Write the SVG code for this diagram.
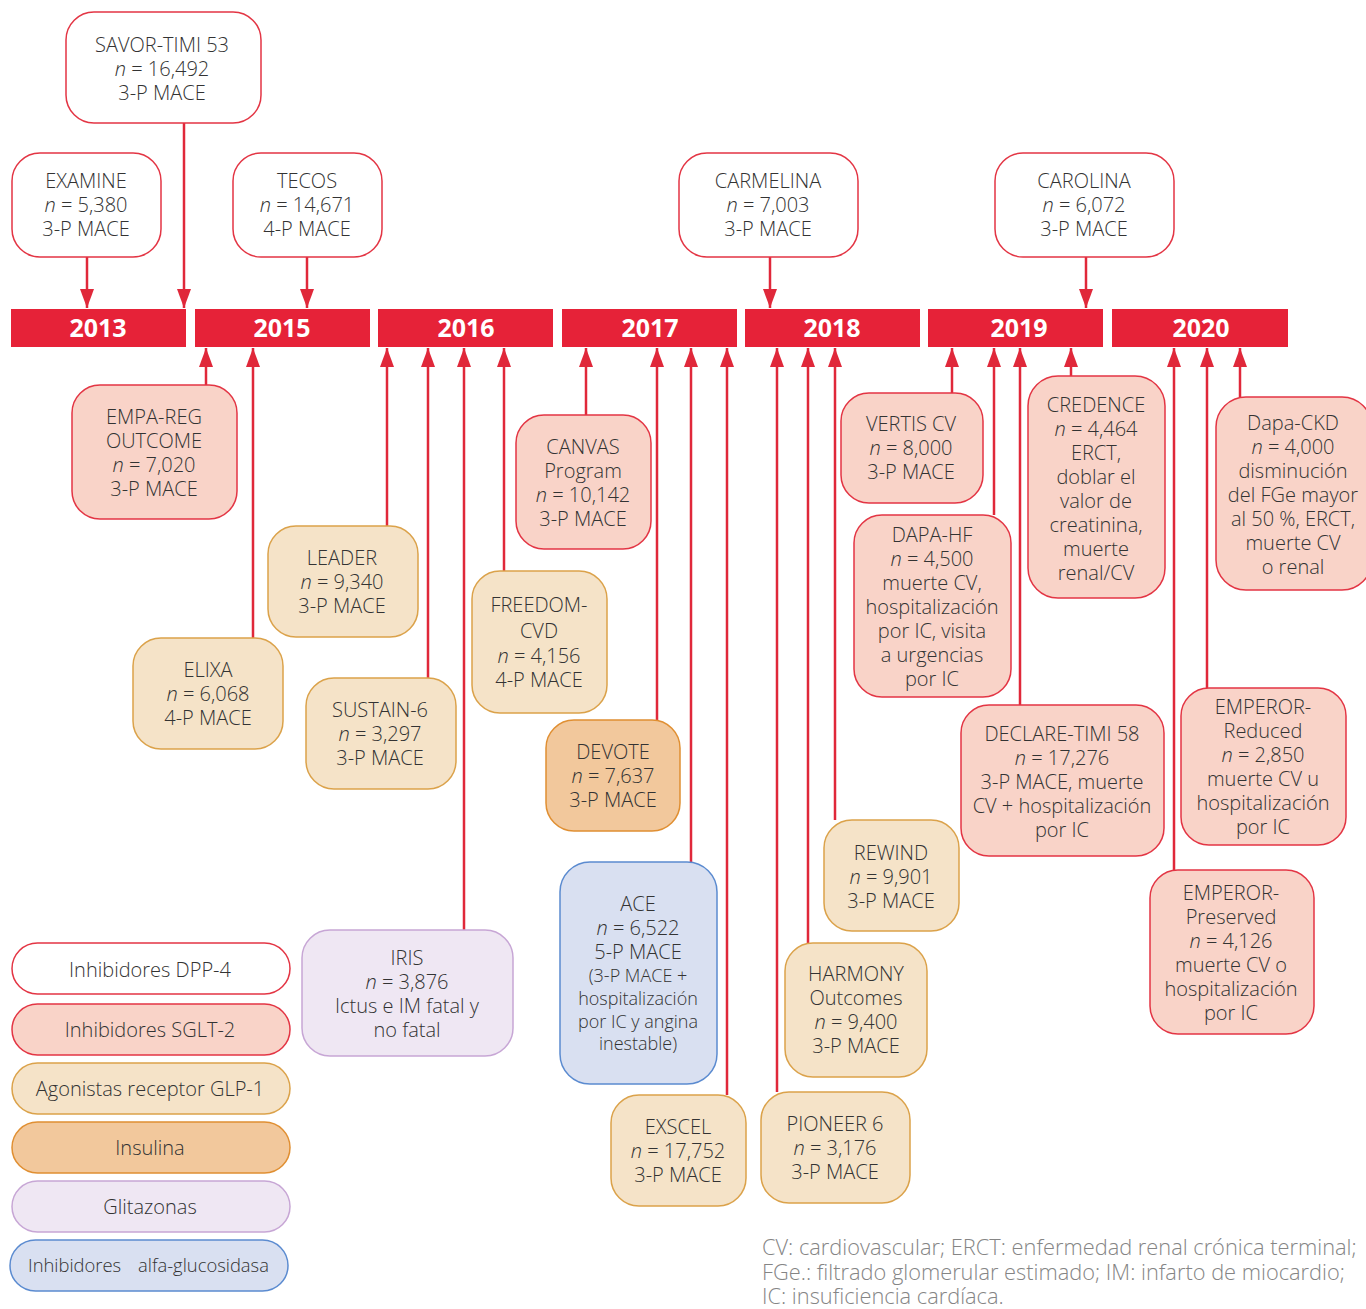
<svg xmlns="http://www.w3.org/2000/svg" width="1366" height="1309" viewBox="0 0 1366 1309">
<defs>
<marker id="ah" markerUnits="userSpaceOnUse" markerWidth="20" markerHeight="14" viewBox="0 0 20 14" refX="19" refY="7" orient="auto">
<path d="M0,0 L19,7 L0,14 Z" fill="#e0283a"/>
</marker>
<style>
text{font-family:"Open Sans","Noto Sans","Liberation Sans",sans-serif;font-weight:300;fill:#333;text-anchor:middle;font-size:20px}
.yr{font-weight:700;fill:#fff;font-size:25px}
.n{font-style:italic}
.bar{fill:#e62238}
.dpp{fill:#fff;stroke:#e33544;stroke-width:1.5}
.sglt{fill:#f9d3c8;stroke:#e33544;stroke-width:1.5}
.glp{fill:#f5e3c8;stroke:#dba24a;stroke-width:1.5}
.ins{fill:#f2c89c;stroke:#e08f32;stroke-width:1.5}
.gli{fill:#efe7f3;stroke:#c7a6d5;stroke-width:1.5}
.alfa{fill:#d9e0f1;stroke:#5b8bd0;stroke-width:1.5}
.c line{stroke:#e0283a;stroke-width:2.5;marker-end:url(#ah)}
.small{font-size:18px}
.foot{text-anchor:start;fill:#858585;font-size:21.8px}
.st{text-anchor:start;font-size:18.4px}
</style>
</defs>

<g id="timeline">
<rect class="bar" x="11" y="309" width="175" height="38"/>
<rect class="bar" x="195" y="309" width="175" height="38"/>
<rect class="bar" x="378" y="309" width="175" height="38"/>
<rect class="bar" x="562" y="309" width="175" height="38"/>
<rect class="bar" x="745" y="309" width="175" height="38"/>
<rect class="bar" x="928" y="309" width="175" height="38"/>
<rect class="bar" x="1112" y="309" width="176" height="38"/>
<text class="yr" x="98" y="337">2013</text>
<text class="yr" x="282" y="337">2015</text>
<text class="yr" x="466" y="337">2016</text>
<text class="yr" x="650" y="337">2017</text>
<text class="yr" x="832" y="337">2018</text>
<text class="yr" x="1019" y="337">2019</text>
<text class="yr" x="1201" y="337">2020</text>
</g>

<g id="connectors" class="c">
<line x1="184" y1="123" x2="184" y2="308"/>
<line x1="87" y1="257" x2="87" y2="308"/>
<line x1="307" y1="257" x2="307" y2="308"/>
<line x1="770" y1="257" x2="770" y2="308"/>
<line x1="1086" y1="257" x2="1086" y2="308"/>
<line x1="206" y1="385" x2="206" y2="348"/>
<line x1="253" y1="638" x2="253" y2="348"/>
<line x1="387" y1="526" x2="387" y2="348"/>
<line x1="428" y1="678" x2="428" y2="348"/>
<line x1="464" y1="930" x2="464" y2="348"/>
<line x1="504" y1="571" x2="504" y2="348"/>
<line x1="586" y1="415" x2="586" y2="348"/>
<line x1="657" y1="720" x2="657" y2="348"/>
<line x1="691" y1="862" x2="691" y2="348"/>
<line x1="727" y1="1095" x2="727" y2="348"/>
<line x1="777" y1="1092" x2="777" y2="348"/>
<line x1="808" y1="943" x2="808" y2="348"/>
<line x1="835" y1="820" x2="835" y2="348"/>
<line x1="952" y1="393" x2="952" y2="348"/>
<line x1="994" y1="515" x2="994" y2="348"/>
<line x1="1020" y1="705" x2="1020" y2="348"/>
<line x1="1071" y1="376" x2="1071" y2="348"/>
<line x1="1174" y1="870" x2="1174" y2="348"/>
<line x1="1207" y1="688" x2="1207" y2="348"/>
<line x1="1240" y1="397" x2="1240" y2="348"/>
</g>

<g id="savor"><rect class="dpp" x="66" y="12" width="195" height="111" rx="28"/>
<text x="162" y="52">SAVOR-TIMI 53</text><text x="162" y="76"><tspan class="n">n</tspan> = 16,492</text><text x="162" y="100">3-P MACE</text></g>
<g id="examine"><rect class="dpp" x="12" y="153" width="149" height="104" rx="28"/>
<text x="86" y="188">EXAMINE</text><text x="86" y="212"><tspan class="n">n</tspan> = 5,380</text><text x="86" y="236">3-P MACE</text></g>
<g id="tecos"><rect class="dpp" x="233" y="153" width="149" height="104" rx="28"/>
<text x="307" y="188">TECOS</text><text x="307" y="212"><tspan class="n">n</tspan> = 14,671</text><text x="307" y="236">4-P MACE</text></g>
<g id="carmelina"><rect class="dpp" x="679" y="153" width="179" height="104" rx="28"/>
<text x="768" y="188">CARMELINA</text><text x="768" y="212"><tspan class="n">n</tspan> = 7,003</text><text x="768" y="236">3-P MACE</text></g>
<g id="carolina"><rect class="dpp" x="995" y="153" width="179" height="104" rx="28"/>
<text x="1084" y="188">CAROLINA</text><text x="1084" y="212"><tspan class="n">n</tspan> = 6,072</text><text x="1084" y="236">3-P MACE</text></g>

<g id="empareg"><rect class="sglt" x="72" y="385" width="165" height="134" rx="28"/>
<text x="154" y="424">EMPA-REG</text><text x="154" y="448">OUTCOME</text><text x="154" y="472"><tspan class="n">n</tspan> = 7,020</text><text x="154" y="496">3-P MACE</text></g>
<g id="elixa"><rect class="glp" x="133" y="638" width="150" height="111" rx="28"/>
<text x="208" y="677">ELIXA</text><text x="208" y="701"><tspan class="n">n</tspan> = 6,068</text><text x="208" y="725">4-P MACE</text></g>
<g id="leader"><rect class="glp" x="268" y="526" width="150" height="111" rx="28"/>
<text x="342" y="565">LEADER</text><text x="342" y="589"><tspan class="n">n</tspan> = 9,340</text><text x="342" y="613">3-P MACE</text></g>
<g id="sustain"><rect class="glp" x="306" y="678" width="150" height="111" rx="28"/>
<text x="380" y="717">SUSTAIN-6</text><text x="380" y="741"><tspan class="n">n</tspan> = 3,297</text><text x="380" y="765">3-P MACE</text></g>
<g id="iris"><rect class="gli" x="302" y="930" width="211" height="126" rx="28"/>
<text x="407" y="965">IRIS</text><text x="407" y="989"><tspan class="n">n</tspan> = 3,876</text><text x="407" y="1013">Ictus e IM fatal y</text><text x="407" y="1037">no fatal</text></g>
<g id="freedom"><rect class="glp" x="472" y="571" width="135" height="142" rx="28"/>
<text x="539" y="612">FREEDOM-</text><text x="539" y="638">CVD</text><text x="539" y="663"><tspan class="n">n</tspan> = 4,156</text><text x="539" y="687">4-P MACE</text></g>
<g id="canvas"><rect class="sglt" x="516" y="415" width="135" height="134" rx="28"/>
<text x="583" y="454">CANVAS</text><text x="583" y="478">Program</text><text x="583" y="502"><tspan class="n">n</tspan> = 10,142</text><text x="583" y="526">3-P MACE</text></g>
<g id="devote"><rect class="ins" x="546" y="720" width="134" height="111" rx="28"/>
<text x="613" y="759">DEVOTE</text><text x="613" y="783"><tspan class="n">n</tspan> = 7,637</text><text x="613" y="807">3-P MACE</text></g>
<g id="ace"><rect class="alfa" x="560" y="862" width="157" height="222" rx="30"/>
<text x="638" y="911">ACE</text><text x="638" y="935"><tspan class="n">n</tspan> = 6,522</text><text x="638" y="959">5-P MACE</text>
<text class="small" x="638" y="982">(3-P MACE +</text><text class="small" x="638" y="1005">hospitalización</text><text class="small" x="638" y="1028">por IC y angina</text><text class="small" x="638" y="1050">inestable)</text></g>
<g id="exscel"><rect class="glp" x="611" y="1095" width="135" height="111" rx="28"/>
<text x="678" y="1134">EXSCEL</text><text x="678" y="1158"><tspan class="n">n</tspan> = 17,752</text><text x="678" y="1182">3-P MACE</text></g>
<g id="pioneer"><rect class="glp" x="761" y="1092" width="149" height="111" rx="28"/>
<text x="835" y="1131">PIONEER 6</text><text x="835" y="1155"><tspan class="n">n</tspan> = 3,176</text><text x="835" y="1179">3-P MACE</text></g>
<g id="harmony"><rect class="glp" x="785" y="943" width="142" height="134" rx="28"/>
<text x="856" y="981">HARMONY</text><text x="856" y="1005">Outcomes</text><text x="856" y="1029"><tspan class="n">n</tspan> = 9,400</text><text x="856" y="1053">3-P MACE</text></g>
<g id="rewind"><rect class="glp" x="824" y="820" width="135" height="111" rx="28"/>
<text x="891" y="860">REWIND</text><text x="891" y="884"><tspan class="n">n</tspan> = 9,901</text><text x="891" y="908">3-P MACE</text></g>
<g id="vertis"><rect class="sglt" x="841" y="393" width="142" height="110" rx="28"/>
<text x="911" y="431">VERTIS CV</text><text x="911" y="455"><tspan class="n">n</tspan> = 8,000</text><text x="911" y="479">3-P MACE</text></g>
<g id="dapahf"><rect class="sglt" x="854" y="515" width="157" height="182" rx="28"/>
<text x="932" y="542">DAPA-HF</text><text x="932" y="566"><tspan class="n">n</tspan> = 4,500</text><text x="932" y="590">muerte CV,</text><text x="932" y="614">hospitalización</text><text x="932" y="638">por IC, visita</text><text x="932" y="662">a urgencias</text><text x="932" y="686">por IC</text></g>
<g id="declare"><rect class="sglt" x="961" y="705" width="203" height="151" rx="28"/>
<text x="1062" y="741">DECLARE-TIMI 58</text><text x="1062" y="765"><tspan class="n">n</tspan> = 17,276</text><text x="1062" y="789">3-P MACE, muerte</text><text x="1062" y="813">CV + hospitalización</text><text x="1062" y="837">por IC</text></g>
<g id="credence"><rect class="sglt" x="1028" y="376" width="137" height="222" rx="30"/>
<text x="1096" y="412">CREDENCE</text><text x="1096" y="436"><tspan class="n">n</tspan> = 4,464</text><text x="1096" y="460">ERCT,</text><text x="1096" y="484">doblar el</text><text x="1096" y="508">valor de</text><text x="1096" y="532">creatinina,</text><text x="1096" y="556">muerte</text><text x="1096" y="580">renal/CV</text></g>
<g id="dapackd"><rect class="sglt" x="1216" y="397" width="156" height="193" rx="30"/>
<text x="1293" y="430">Dapa-CKD</text><text x="1293" y="454"><tspan class="n">n</tspan> = 4,000</text><text x="1293" y="478">disminución</text><text x="1293" y="502">del FGe mayor</text><text x="1293" y="526">al 50 %, ERCT,</text><text x="1293" y="550">muerte CV</text><text x="1293" y="574">o renal</text></g>
<g id="empreduced"><rect class="sglt" x="1181" y="688" width="165" height="157" rx="28"/>
<text x="1263" y="714">EMPEROR-</text><text x="1263" y="738">Reduced</text><text x="1263" y="762"><tspan class="n">n</tspan> = 2,850</text><text x="1263" y="786">muerte CV u</text><text x="1263" y="810">hospitalización</text><text x="1263" y="834">por IC</text></g>
<g id="emppreserved"><rect class="sglt" x="1150" y="870" width="164" height="164" rx="28"/>
<text x="1231" y="900">EMPEROR-</text><text x="1231" y="924">Preserved</text><text x="1231" y="948"><tspan class="n">n</tspan> = 4,126</text><text x="1231" y="972">muerte CV o</text><text x="1231" y="996">hospitalización</text><text x="1231" y="1020">por IC</text></g>

<g id="legend">
<rect class="dpp" x="12" y="943" width="278" height="51" rx="25.5"/><text x="150" y="977">Inhibidores DPP-4</text>
<rect class="sglt" x="12" y="1004" width="278" height="51" rx="25.5"/><text x="150" y="1037">Inhibidores SGLT-2</text>
<rect class="glp" x="12" y="1063" width="278" height="51" rx="25.5"/><text x="150" y="1096">Agonistas receptor GLP-1</text>
<rect class="ins" x="12" y="1122" width="278" height="51" rx="25.5"/><text x="150" y="1155">Insulina</text>
<rect class="gli" x="12" y="1181" width="278" height="51" rx="25.5"/><text x="150" y="1214">Glitazonas</text>
<rect class="alfa" x="10" y="1240" width="278" height="51" rx="25.5"/><text class="st" x="28" y="1272">Inhibidores<tspan x="138">alfa-glucosidasa</tspan></text>
</g>

<g id="footnote">
<text class="foot" x="762" y="1255">CV: cardiovascular; ERCT: enfermedad renal crónica terminal;</text>
<text class="foot" x="762" y="1280">FGe.: filtrado glomerular estimado; IM: infarto de miocardio;</text>
<text class="foot" x="762" y="1304">IC: insuficiencia cardíaca.</text>
</g>
</svg>
